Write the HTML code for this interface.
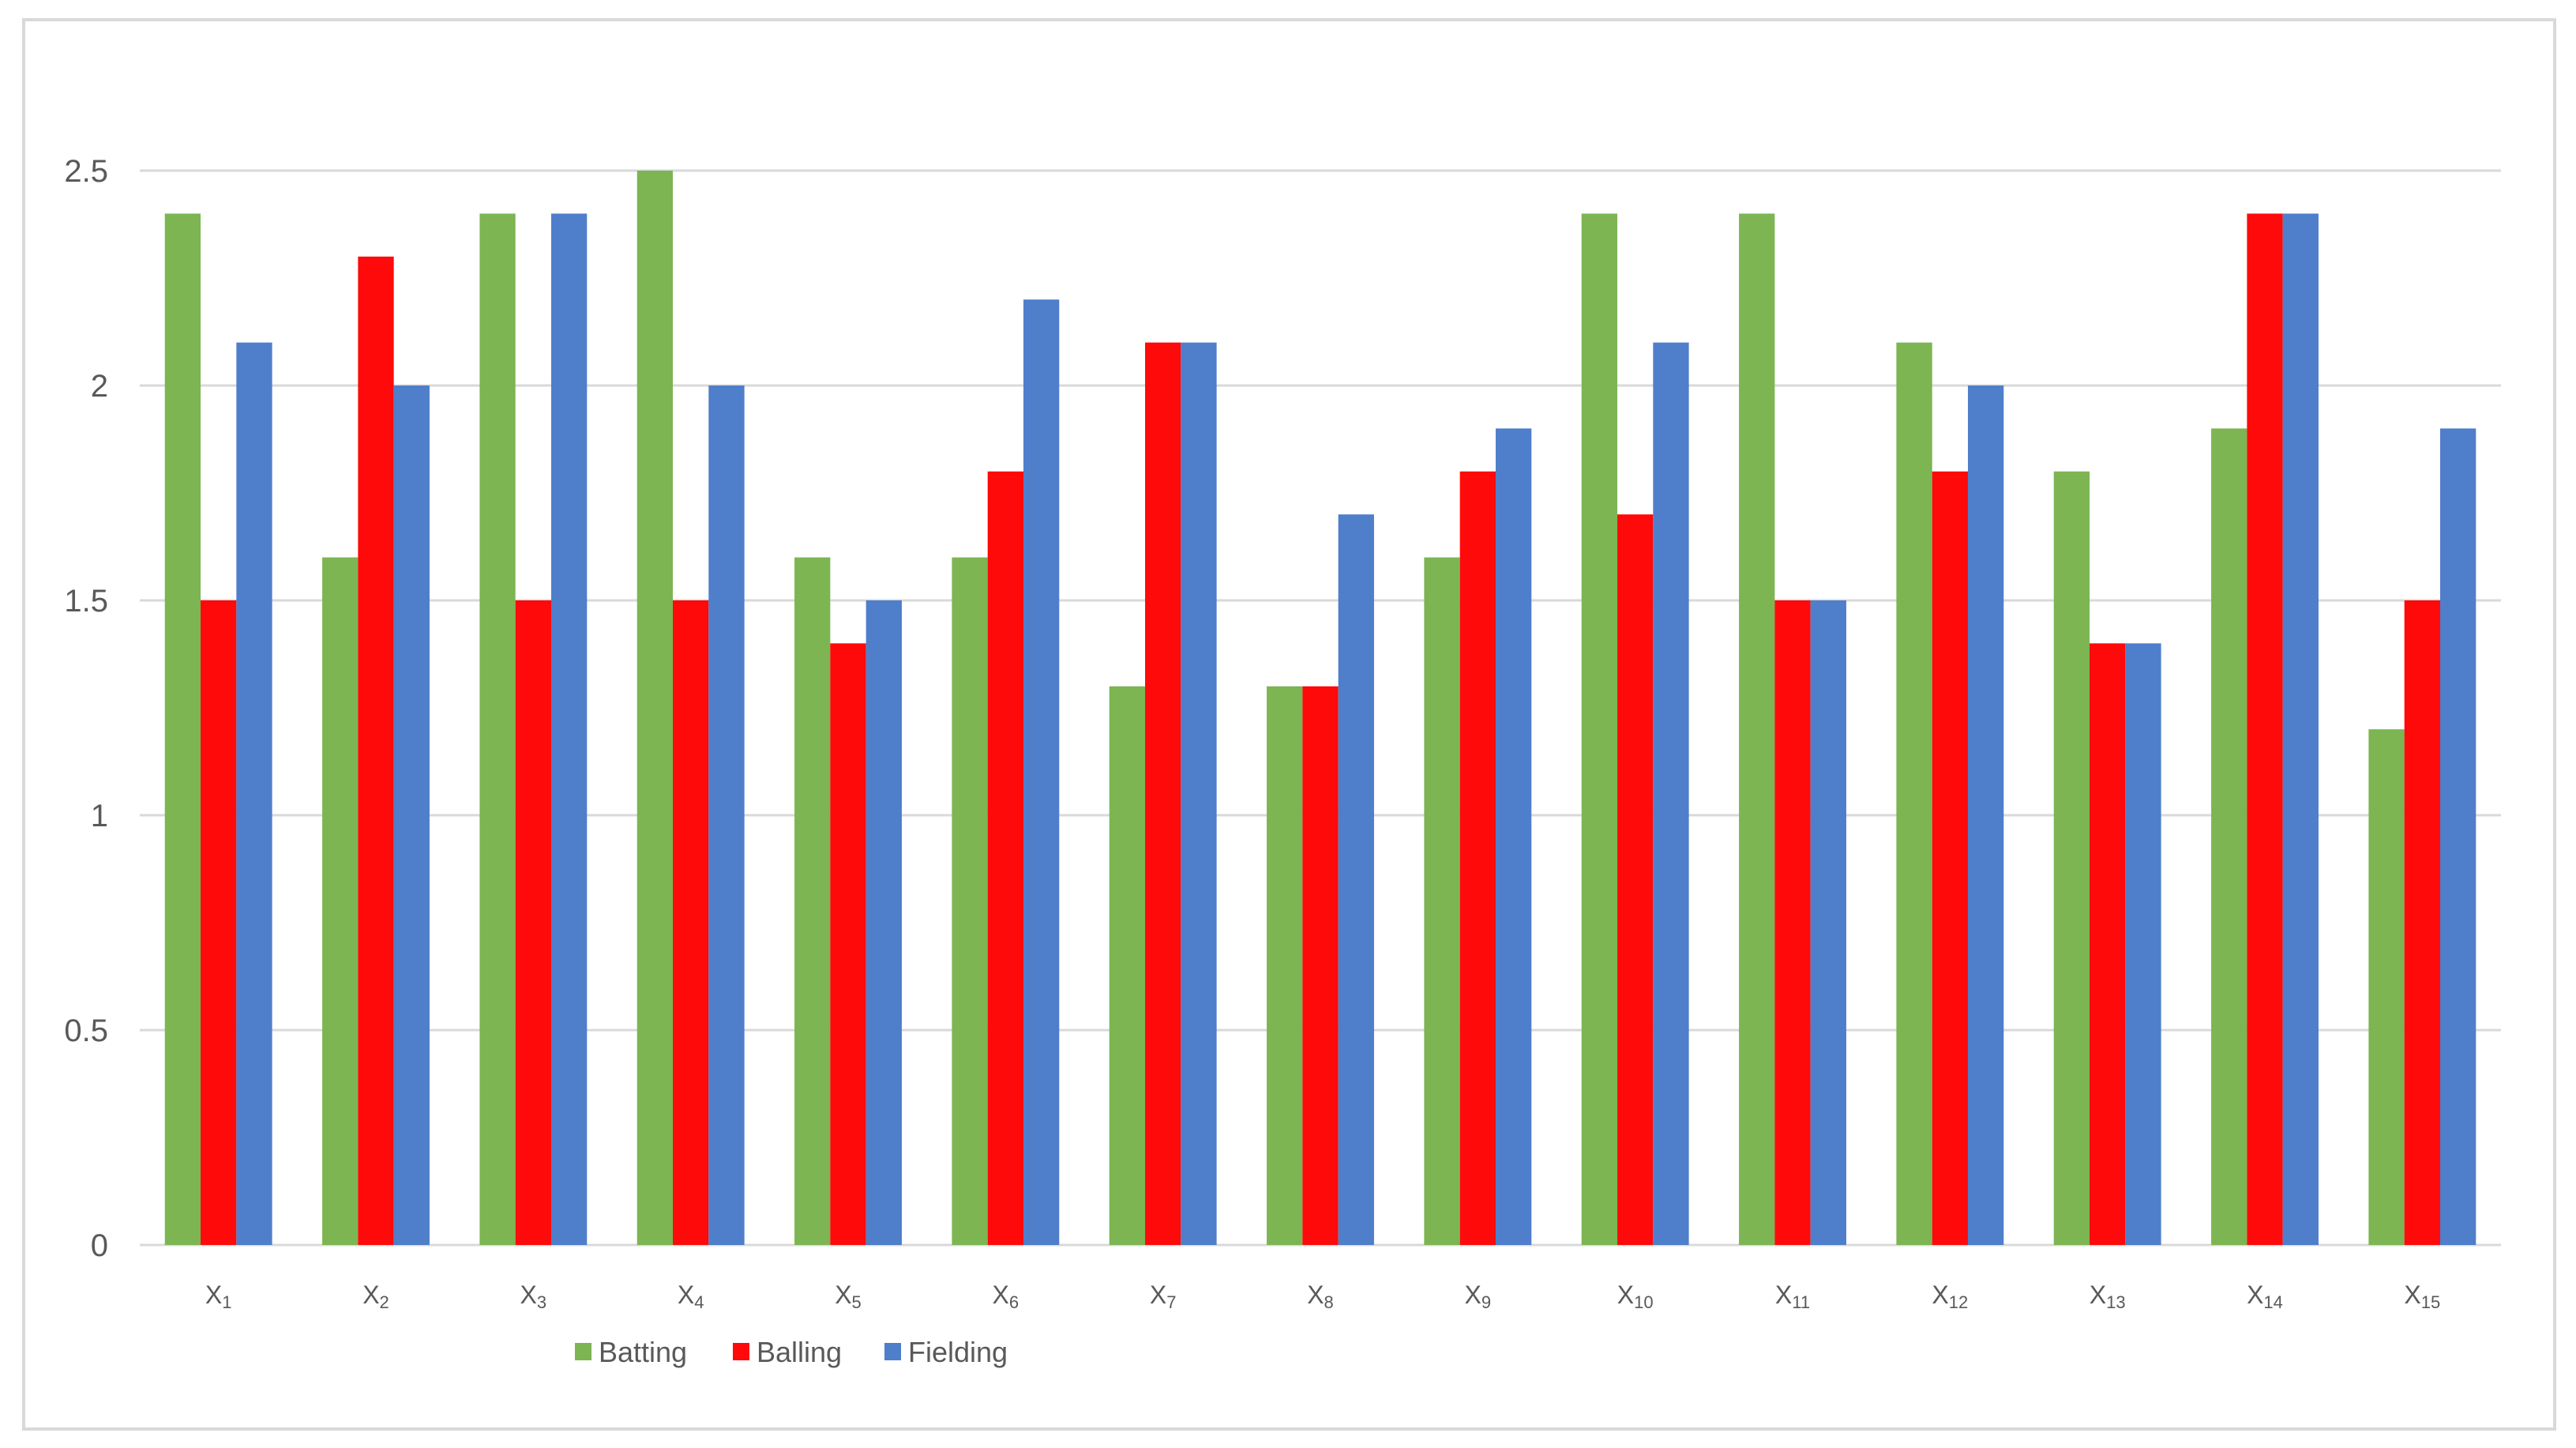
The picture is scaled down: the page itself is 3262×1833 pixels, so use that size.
<!DOCTYPE html>
<html><head><meta charset="utf-8"><style>
html,body{margin:0;padding:0;background:#fff;width:3262px;height:1833px;overflow:hidden}
svg{display:block}
text{font-family:"Liberation Sans",sans-serif;fill:#595959}
</style></head><body>
<svg id="chart" width="3262" height="1833" xmlns="http://www.w3.org/2000/svg">
<rect x="30" y="25" width="3205" height="1784" fill="#fff" stroke="#d9d9d9" stroke-width="4"/>
<g id="grid"></g><g id="bars"></g><g id="labels"></g>
<g id="legend"></g>
</svg>
<script>
const categories=["1","2","3","4","5","6","7","8","9","10","11","12","13","14","15"];
const batting=[2.4,1.6,2.4,2.5,1.6,1.6,1.3,1.3,1.6,2.4,2.4,2.1,1.8,1.9,1.2];
const balling=[1.5,2.3,1.5,1.5,1.4,1.8,2.1,1.3,1.8,1.7,1.5,1.8,1.4,2.4,1.5];
const fielding=[2.1,2.0,2.4,2.0,1.5,2.2,2.1,1.7,1.9,2.1,1.5,2.0,1.4,2.4,1.9];
const yTicks=[0,0.5,1,1.5,2,2.5];
const seriesNames=["Batting","Balling","Fielding"];

const NS="http://www.w3.org/2000/svg";
const L=177,R=3167,Y0=1576,YT=216,YMAX=2.5;
const colors=["#7cb552","#fe0a0a","#4f7ecb"];
function y(v){return Y0-(v/YMAX)*(Y0-YT);}
const cw=(R-L)/categories.length;
function xc(i){return L+cw*(i+0.5);}
const bw=45.3;
function mk(tag,attrs,parent){const e=document.createElementNS(NS,tag);for(const k in attrs)e.setAttribute(k,attrs[k]);document.getElementById(parent).appendChild(e);return e;}

yTicks.forEach(t=>{
  const g=mk("line",{x1:L,x2:R,y1:y(t),y2:y(t),stroke:"#d9d9d9","stroke-width":3},"grid");
  
  
  const tx=mk("text",{x:137,y:y(t)+14,"text-anchor":"end","font-size":40},"grid");
  tx.textContent=String(t);
  
  
});

const series=[batting,balling,fielding];
series.forEach((vals,s)=>{
  vals.forEach((v,i)=>{
    const x=xc(i)-1.5*bw+s*bw;
    const r=mk("rect",{x:x,y:y(v),width:bw,height:Y0-y(v),fill:colors[s]},"bars");
    
    
  });
});

categories.forEach((c,i)=>{
  const t=mk("text",{x:xc(i),y:1650,"text-anchor":"middle","font-size":32},"labels");
  t.innerHTML='X<tspan font-size="22" dy="6">'+c+'</tspan>';
  
  
});

const lx=[728,928,1120];
seriesNames.forEach((n,s)=>{
  const r=mk("rect",{x:lx[s],y:1700,width:21,height:22,fill:colors[s]},"legend");
  
  
  const t=mk("text",{x:lx[s]+30,y:1724,"font-size":36},"legend");
  t.textContent=n;
  
  
});
</script>
</body></html>
